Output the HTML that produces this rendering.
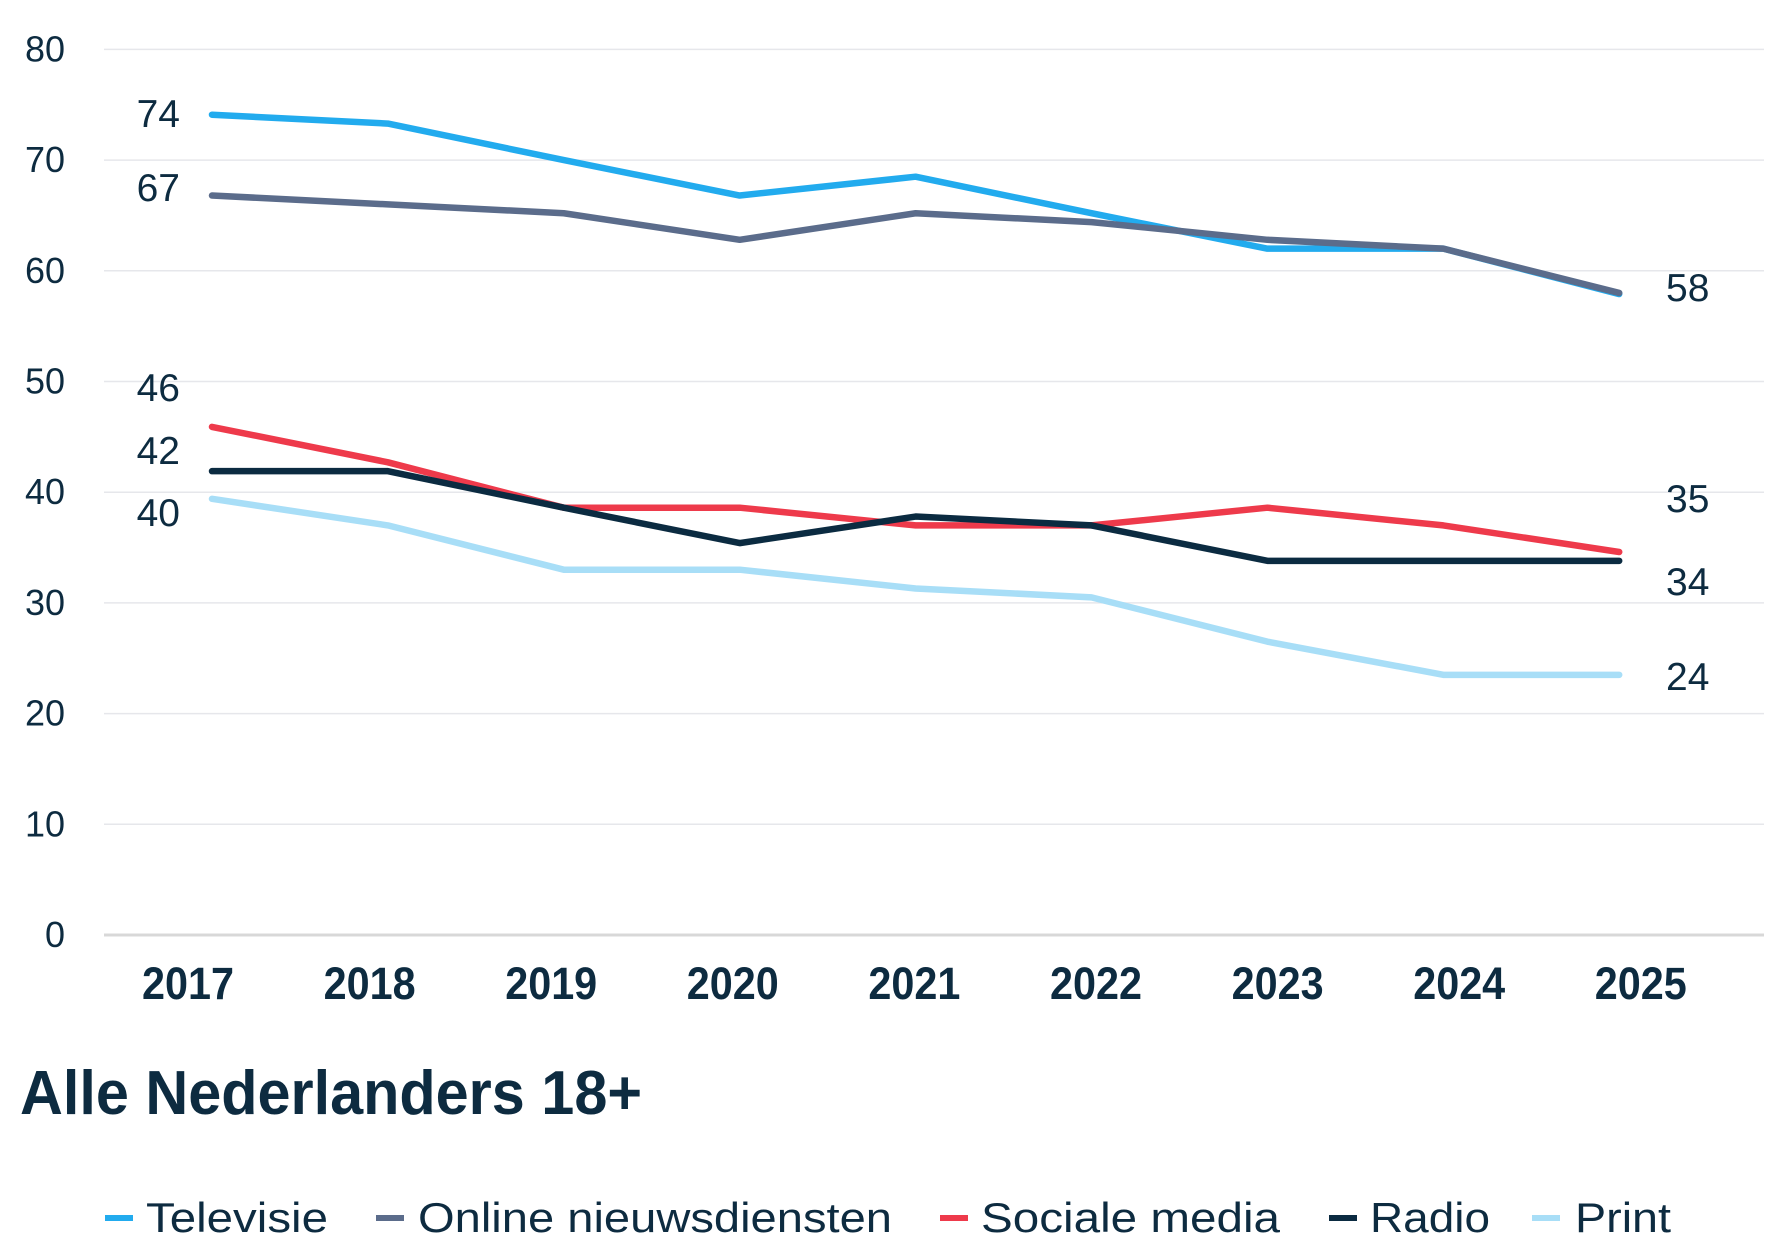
<!DOCTYPE html>
<html><head><meta charset="utf-8"><style>
html,body{margin:0;padding:0;background:#fff;}
svg{display:block;font-family:"Liberation Sans",sans-serif;}
</style></head><body>
<svg id="chart" width="1780" height="1260" viewBox="0 0 1780 1260"></svg>
<script>
const years = ["2017","2018","2019","2020","2021","2022","2023","2024","2025"];
const yTicks = [0,10,20,30,40,50,60,70,80];
const televisie = [74.1,73.3,70,66.8,68.5,65.2,62,62,57.9];
const online = [66.8,66,65.2,62.8,65.2,64.4,62.8,62,58];
const sociaal = [45.9,42.7,38.6,38.6,37,37,38.6,37,34.6];
const radio = [41.9,41.9,38.6,35.4,37.8,37,33.8,33.8,33.8];
const print = [39.4,37,33,33,31.3,30.5,26.5,23.5,23.5];
const startLabels = ["74","67","46","42","40"];
const endLabels = ["58","35","34","24"];
const seriesNames = ["Televisie","Online nieuwsdiensten","Sociale media","Radio","Print"];

const NS="http://www.w3.org/2000/svg";
const svg=document.getElementById('chart');
const TXT="#0d2b40";
function x(i){return 212+i*175.9;}
function y(v){return 935-v*11.07;}
function el(tag,attrs,text){const e=document.createElementNS(NS,tag);for(const k in attrs)e.setAttribute(k,attrs[k]);if(text!==undefined)e.textContent=text;svg.appendChild(e);return e;}

yTicks.forEach(t=>{
  if(t>0){const g=el('line',{x1:104,x2:1764,y1:y(t),y2:y(t),stroke:'#e6e7eb','stroke-width':1.5});
  
  }
  const l=el('text',{x:65,y:y(t)+12,'text-anchor':'end','font-size':36,fill:TXT},String(t));
  
  
});
const ax=el('line',{x1:104,x2:1764,y1:y(0),y2:y(0),stroke:'#d8d8d8','stroke-width':3});


years.forEach((yr,i)=>{
  const t=el('text',{x:188+i*181.6,y:999,'text-anchor':'middle','font-size':45,'font-weight':'bold',fill:TXT,textLength:92,lengthAdjust:'spacingAndGlyphs'},yr);
  
  
});
const series=[[televisie,'#22abee','televisie'],[online,'#5b6c8b','online'],[print,'#a8def7','print'],[sociaal,'#ee3a4b','sociale-media'],[radio,'#0b2b41','radio']];
series.forEach(s=>{
  const d=s[0].map((v,i)=>(i?'L':'M')+x(i)+','+y(v)).join(' ');
  const p=el('path',{d:d,fill:'none',stroke:s[1],'stroke-width':6.5,'stroke-linejoin':'round','stroke-linecap':'round'});
  
  
});
const sY=[113,187,387,450,512];
startLabels.forEach((s,i)=>{
  const t=el('text',{x:180,y:sY[i]+14,'text-anchor':'end','font-size':39,fill:TXT},s);
  
  
});
const eY=[287,498,581,676];
endLabels.forEach((s,i)=>{
  const t=el('text',{x:1666,y:eY[i]+14,'font-size':39,fill:TXT},s);
  
  
});
const title=el('text',{x:20,y:1114,'font-size':62,'font-weight':'bold',fill:TXT,textLength:622,lengthAdjust:'spacingAndGlyphs'},'Alle Nederlanders 18+');


const legColors=['#22abee','#5b6c8b','#ee3a4b','#0b2b41','#a8def7'];
const legMarkX=[105,376,940,1329,1532];
const legTextX=[146,418,981,1370,1575];
const legTextW=[182,474,299,120,96];
seriesNames.forEach((n,i)=>{
  const m=el('rect',{x:legMarkX[i],y:1215,width:28,height:6,fill:legColors[i]});
  
  
  const t=el('text',{x:legTextX[i],y:1232,'font-size':42,fill:TXT,textLength:legTextW[i],lengthAdjust:'spacingAndGlyphs'},n);
  
  
});
</script>
</body></html>
